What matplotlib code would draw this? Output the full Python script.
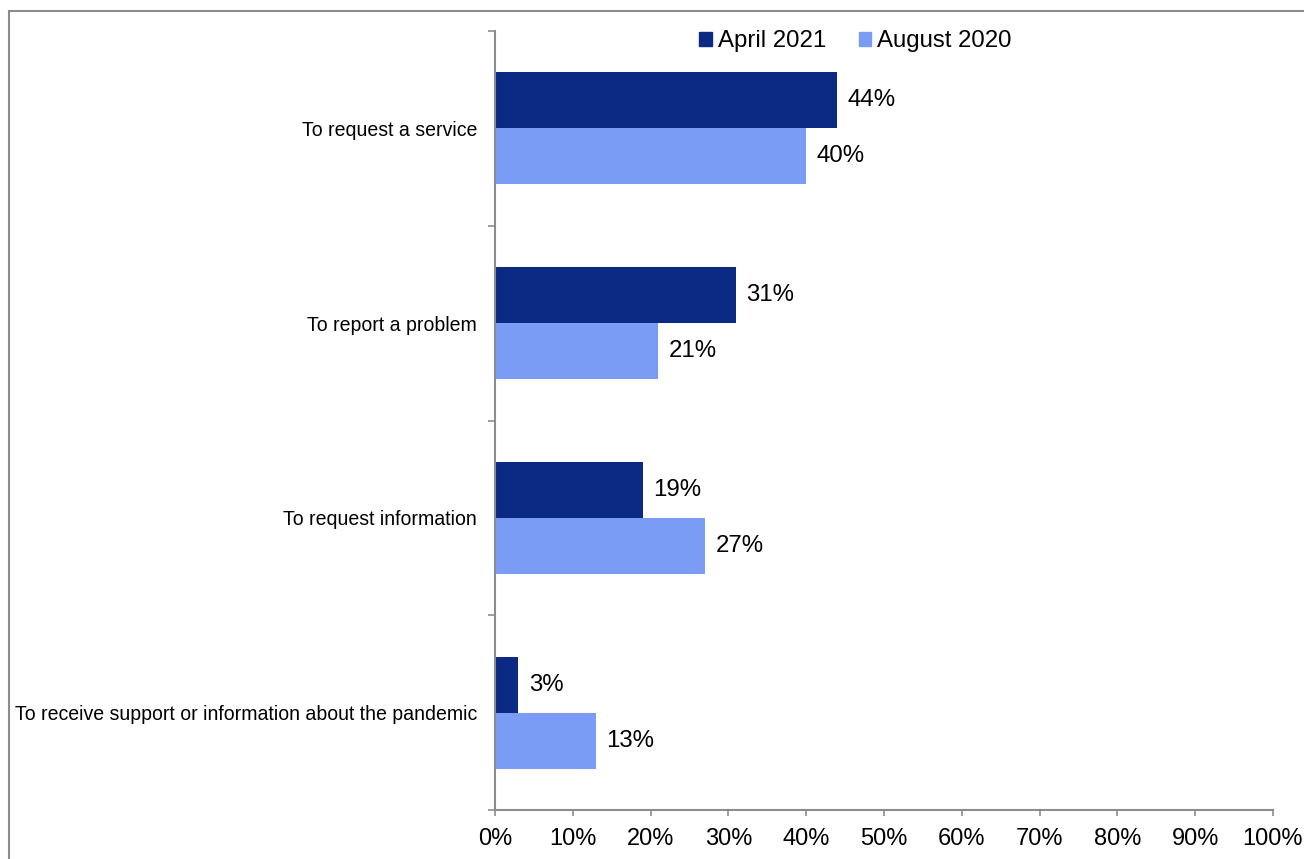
import numpy as np
import matplotlib.pyplot as plt
from matplotlib.patches import Rectangle, Patch

plt.rcParams['font.family'] = ['Liberation Sans', 'DejaVu Sans']

# survey data
reasons = ["To request a service", "To report a problem", "To request information",
           "To receive support or information about the pandemic"]
april_2021 = [44, 31, 19, 3]
august_2020 = [40, 21, 27, 13]
series_names = ["April 2021", "August 2020"]
dark = "#0A2A83"
light = "#7A9CF4"
grey = "#8C8C8C"

fig = plt.figure(figsize=(13.04, 8.59), dpi=100)
ax = fig.add_axes([0.3796, 0.0570, 0.5966, 0.9069])

y = np.arange(len(reasons))
h = 0.288
ax.barh(y - h / 2, april_2021, height=h, color=dark)
ax.barh(y + h / 2, august_2020, height=h, color=light)

for yi, v in zip(y - h / 2, april_2021):
    ax.annotate(f"{v}%", (v, yi), xytext=(7.5, 0), textcoords="offset points",
                va="center", ha="left", fontsize=17.3)
for yi, v in zip(y + h / 2, august_2020):
    ax.annotate(f"{v}%", (v, yi), xytext=(7.5, 0), textcoords="offset points",
                va="center", ha="left", fontsize=17.3)

ax.set_xlim(0, 100)
ax.set_ylim(len(reasons) - 0.5, -0.5)
ax.set_xticks(np.arange(0, 101, 10))
ax.set_xticklabels([f"{t}%" for t in range(0, 101, 10)], fontsize=17)
ax.tick_params(axis="x", length=4, width=1.2, color=grey, pad=9)

# tick marks at band edges, labels at band centres
ax.set_yticks(np.arange(-0.5, len(reasons)), labels=[])
ax.set_yticks(y, labels=reasons, minor=True)
ax.tick_params(axis="y", which="major", length=5, width=1.2, color=grey)
ax.tick_params(axis="y", which="minor", length=0, pad=13, labelsize=14.05)

for s in ["top", "right"]:
    ax.spines[s].set_visible(False)
for s in ["left", "bottom"]:
    ax.spines[s].set_color(grey)
    ax.spines[s].set_linewidth(1.5)

handles = [Patch(color=dark), Patch(color=light)]
fig.legend(handles, series_names, loc="center", bbox_to_anchor=(0.656, 0.952),
           ncol=2, frameon=False, fontsize=17.3, handlelength=0.52, handleheight=0.52,
           handletextpad=0.25, columnspacing=1.35)

# outer frame
fig.patches.append(Rectangle((9 / 1304, -0.05), 1.1, 0.05 + 1 - 11 / 859,
                             transform=fig.transFigure, fill=False,
                             edgecolor=grey, linewidth=1.5))

fig.savefig("out.png", dpi=100)
